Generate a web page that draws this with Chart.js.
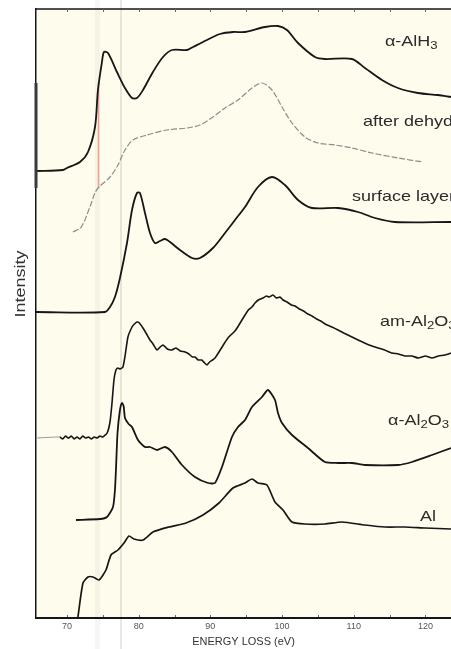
<!DOCTYPE html>
<html>
<head>
<meta charset="utf-8">
<title>Al L-edge EELS</title>
<script src="https://cdn.jsdelivr.net/npm/chart.js@4.4.1/dist/chart.umd.min.js"></script>
<style>
  html, body { margin: 0; padding: 0; background: #fff; }
  #wrap { width: 451px; height: 649px; }
</style>
</head>
<body>
<div id="wrap"><canvas id="eelsChart" width="451" height="649"></canvas></div>
<script>
// energy loss (eV) and offset intensity (arb. units) of each spectrum
var alh3Energy = [65.68, 69.44, 70.0, 71.81, 72.93, 73.91, 74.32, 74.88, 75.16, 75.72, 76.97, 78.09, 79.07, 79.76, 80.60, 81.99, 83.39, 84.64, 86.74, 87.57, 89.53, 91.34, 93.15, 94.83, 97.62, 99.43, 100.68, 102.22, 104.59, 105.98, 109.75, 111.56, 113.93, 116.16, 118.95, 121.74, 123.56];
var alh3Counts = [447, 448, 450, 456, 466, 491, 528, 556, 566, 565, 546, 530, 520, 520, 528, 546, 561, 568, 568, 571, 578, 584, 586, 586, 591, 592, 588, 575, 561, 559, 559, 550, 538, 530, 525, 523, 521];

var dehydEnergy = [70.84, 72.0, 73.2, 73.9, 74.46, 76.0, 77.11, 78.09, 79.21, 81.16, 83.95, 86.74, 88.55, 90.36, 92.04, 93.85, 95.80, 97.20, 98.59, 99.99, 101.38, 103.19, 105.01, 107.38, 109.75, 112.54, 116.16, 119.65];
var dehydCounts = [386, 391, 411, 425, 431, 441, 453, 468, 478, 483, 488, 490, 493, 501, 510, 518, 530, 535, 528, 511, 495, 481, 475, 473, 470, 465, 460, 456];

var surfEnergy = [65.68, 75.30, 76.00, 76.69, 77.39, 78.37, 79.07, 79.76, 80.18, 80.88, 81.58, 82.27, 82.97, 83.67, 84.37, 85.76, 87.43, 88.55, 90.36, 92.04, 93.43, 94.83, 96.64, 98.59, 100.40, 102.22, 104.17, 107.80, 110.59, 112.96, 115.75, 123.56];
var surfCounts = [306, 306, 311, 321, 340, 375, 408, 425, 425, 405, 385, 375, 377, 379, 376, 368, 360, 360, 370, 385, 398, 411, 431, 441, 433, 418, 410, 410, 406, 400, 396, 396];

var amEnergy = [65.68, 69.0, 69.4, 69.8, 70.2, 70.6, 71.0, 71.4, 71.8, 72.2, 72.6, 73.0, 73.4, 73.8, 74.2, 74.6, 75.0, 75.6, 76.0, 76.28, 76.55, 76.83, 77.1, 77.4, 77.81, 78.1, 78.5, 79.07, 79.4, 79.76, 80.1, 80.6, 81.1, 81.58, 82.0, 82.55, 83.0, 83.4, 84.0, 84.64, 85.2, 85.8, 86.46, 87.0, 87.5, 87.85, 88.3, 88.8, 89.2, 89.53, 89.9, 90.3, 90.64, 91.2, 91.8, 92.45, 93.0, 93.43, 93.9, 94.4, 94.83, 95.3, 95.8, 96.22, 96.7, 97.34, 97.8, 98.2, 98.73, 99.2, 99.7, 100.13, 100.7, 101.3, 101.8, 102.4, 103.0, 103.6, 104.17, 104.8, 105.4, 106.0, 106.96, 107.8, 108.6, 109.75, 110.6, 111.5, 112.54, 113.4, 114.3, 115.33, 116.2, 117.1, 118.12, 119.0, 120.0, 120.91, 121.8, 122.7, 123.56];
var amCounts = [180, 181, 179, 182, 180, 182, 179, 181, 179, 182, 180, 181, 179, 181, 180, 182, 181, 185, 196, 215, 238, 248, 250, 249, 251, 262, 281, 291, 294, 296, 295, 290, 284, 278, 274, 268, 271, 273, 269, 268, 270, 267, 266, 264, 261, 261, 258, 258, 255, 253, 256, 258, 260, 266, 273, 280, 284, 287, 292, 298, 303, 308, 311, 315, 318, 320, 322, 321, 323, 320, 321, 318, 316, 313, 312, 309, 307, 304, 302, 299, 297, 294, 291, 288, 285, 281, 278, 275, 272, 270, 268, 265, 264, 262, 262, 260, 262, 260, 262, 263, 265];

var alphaEnergy = [71.26, 74.60, 75.58, 76.42, 76.69, 76.83, 77.05, 77.39, 77.67, 77.90, 78.09, 78.6, 79.07, 79.90, 80.88, 81.58, 82.55, 83.67, 84.64, 86.04, 87.85, 89.67, 90.64, 91.62, 93.01, 93.85, 94.83, 95.80, 97.20, 98.03, 99.01, 99.43, 99.99, 101.38, 103.61, 105.98, 107.80, 109.75, 111.56, 116.16, 118.12, 120.91, 123.56];
var alphaCounts = [98, 99, 101, 111, 128, 148, 185, 208, 215, 212, 200, 194, 191, 178, 171, 171, 168, 171, 166, 153, 141, 135, 135, 151, 181, 191, 198, 211, 221, 228, 218, 205, 195, 183, 170, 156, 155, 155, 153, 153, 156, 163, 170];

var metalEnergy = [71.53, 72.23, 72.93, 73.63, 74.46, 75.44, 76.14, 77.11, 77.95, 78.65, 79.34, 80.60, 81.99, 84.23, 86.60, 88.97, 91.20, 93.15, 94.83, 95.80, 96.64, 97.89, 99.01, 100.13, 101.38, 103.19, 105.98, 108.35, 111.56, 114.35, 117.14, 119.93, 123.56];
var metalCounts = [1, 35, 41, 41, 38, 48, 63, 68, 75, 82, 79, 78, 86, 91, 95, 103, 115, 130, 135, 139, 135, 133, 116, 108, 96, 94, 94, 96, 93, 91, 91, 90, 89];

// onset marker between the two top spectra
var markerEnergy = [74.4, 74.4];
var markerCounts = [430, 536];

var xTicks = [70, 80, 90, 100, 110, 120];
var curveNames = ['α-AlH3', 'after dehydrogenation', 'surface layer', 'am-Al2O3', 'α-Al2O3', 'Al'];
var nameEnergy = [114.35, 111.28, 109.75, 113.65, 114.77, 119.23];
var nameCounts = [576, 496, 421, 296, 197, 101];

function pts(xs, ys) {
    return xs.map(function (x, i) { return { x: x, y: ys[i] }; });
}

var LINE = '#161616';
var FONT = '"Liberation Sans", Arial, sans-serif';

// splits "Al2O3" into normal text and subscript digits
function drawName(ctx, text, px, py) {
    var parts = text.split(/(\d)/).filter(function (s) { return s.length; });
    ctx.save();
    ctx.translate(px, py);
    ctx.scale(1.2, 1);
    ctx.textBaseline = 'middle';
    ctx.textAlign = 'left';
    ctx.fillStyle = '#2b2b2b';
    var cx = 0;
    parts.forEach(function (p) {
        var sub = /^\d$/.test(p);
        ctx.font = (sub ? '11px ' : '15px ') + FONT;
        ctx.fillText(p, cx, sub ? 4 : 0);
        cx += ctx.measureText(p).width;
    });
    ctx.restore();
}

var decor = {
    id: 'decor',
    beforeDraw: function (chart) {
        var ctx = chart.ctx, a = chart.chartArea;
        ctx.save();
        ctx.fillStyle = '#fefcec';
        ctx.fillRect(a.left, a.top, a.right - a.left, a.bottom - a.top);
        ctx.restore();
    },
    beforeDatasetsDraw: function (chart) {
        var ctx = chart.ctx, xs = chart.scales.x;
        ctx.save();
        // faint vertical streaks running the full height
        ctx.fillStyle = 'rgba(0,0,0,0.035)';
        ctx.fillRect(Math.round(xs.getPixelForValue(74.25)) - 2, 0, 5, chart.height);
        ctx.fillStyle = 'rgba(0,0,0,0.09)';
        ctx.fillRect(Math.round(xs.getPixelForValue(77.6)) - 1, 0, 2, chart.height);
        ctx.restore();
    },
    afterDraw: function (chart) {
        var ctx = chart.ctx, a = chart.chartArea, xs = chart.scales.x, ys = chart.scales.y;
        ctx.save();
        // frame top edge
        ctx.strokeStyle = LINE;
        ctx.lineWidth = 1.5;
        ctx.beginPath();
        ctx.moveTo(a.left, a.top);
        ctx.lineTo(a.right, a.top);
        ctx.stroke();
        // minor ticks every 5 eV
        ctx.strokeStyle = '#666';
        ctx.lineWidth = 1;
        for (var e = 70; e <= 120; e += 5) {
            var px = Math.round(xs.getPixelForValue(e)) + 0.5;
            ctx.beginPath();
            ctx.moveTo(px, a.top);
            ctx.lineTo(px, a.top + 3);
            ctx.moveTo(px, a.bottom - 1);
            ctx.lineTo(px, a.bottom - 3);
            ctx.stroke();
        }
        // heavier stretch of the intensity axis
        ctx.strokeStyle = '#3a3a3a';
        ctx.lineWidth = 3;
        ctx.beginPath();
        ctx.moveTo(a.left, ys.getPixelForValue(430));
        ctx.lineTo(a.left, ys.getPixelForValue(535));
        ctx.stroke();
        // axis name
        ctx.translate(21, 284);
        ctx.rotate(-Math.PI / 2);
        ctx.scale(1.2, 1);
        ctx.font = '15px ' + FONT;
        ctx.fillStyle = '#333';
        ctx.textAlign = 'center';
        ctx.textBaseline = 'middle';
        ctx.fillText('Intensity', 0, 0);
        ctx.restore();

        curveNames.forEach(function (n, i) {
            drawName(ctx, n, xs.getPixelForValue(nameEnergy[i]), ys.getPixelForValue(nameCounts[i]));
        });
    }
};

var ctx = document.getElementById('eelsChart').getContext('2d');
var chart = new Chart(ctx, {
    type: 'line',
    data: {
        datasets: [
            { label: curveNames[0], data: pts(alh3Energy, alh3Counts), borderColor: LINE, borderWidth: 1.8, tension: 0.3 },
            { label: curveNames[1], data: pts(dehydEnergy, dehydCounts), borderColor: '#8c8c8c', borderWidth: 1.2, borderDash: [6, 2], tension: 0.3 },
            { label: curveNames[2], data: pts(surfEnergy, surfCounts), borderColor: LINE, borderWidth: 1.8, tension: 0.3 },
            {
                label: curveNames[3], data: pts(amEnergy, amCounts), borderColor: LINE, borderWidth: 1.6, tension: 0.15,
                segment: {
                    borderColor: function (c) { return c.p1.parsed.x <= 69.0 ? '#9a9a9a' : LINE; },
                    borderWidth: function (c) { return c.p1.parsed.x <= 69.0 ? 1 : 1.6; }
                }
            },
            { label: curveNames[4], data: pts(alphaEnergy, alphaCounts), borderColor: LINE, borderWidth: 1.8, tension: 0.2 },
            { label: curveNames[5], data: pts(metalEnergy, metalCounts), borderColor: LINE, borderWidth: 1.7, tension: 0.2 },
            { label: 'onset', data: pts(markerEnergy, markerCounts), borderColor: '#f2a08c', borderWidth: 1.5, tension: 0 }
        ]
    },
    options: {
        responsive: false,
        animation: false,
        devicePixelRatio: 1,
        parsing: false,
        elements: { point: { radius: 0 }, line: { fill: false } },
        layout: { padding: { top: 9, right: 0, left: 0, bottom: 0 } },
        plugins: { legend: { display: false }, tooltip: { enabled: false } },
        scales: {
            x: {
                type: 'linear',
                min: 65.68,
                max: 123.56,
                afterFit: function (s) { s.height = 31; },
                afterBuildTicks: function (s) { s.ticks = xTicks.map(function (v) { return { value: v }; }); },
                ticks: { font: { size: 9, family: FONT }, color: '#555', padding: 3, maxRotation: 0 },
                grid: { display: false, drawTicks: false },
                border: { display: true, color: LINE, width: 2 },
                title: { display: true, text: 'ENERGY LOSS (eV)', font: { size: 11, family: FONT }, color: '#333', padding: { top: 0, bottom: 0 } }
            },
            y: {
                min: 0,
                max: 609,
                afterFit: function (s) { s.width = 36; },
                ticks: { display: false },
                grid: { display: false, drawTicks: false },
                border: { display: true, color: LINE, width: 1.5 }
            }
        }
    },
    plugins: [decor]
});
</script>
</body>
</html>
